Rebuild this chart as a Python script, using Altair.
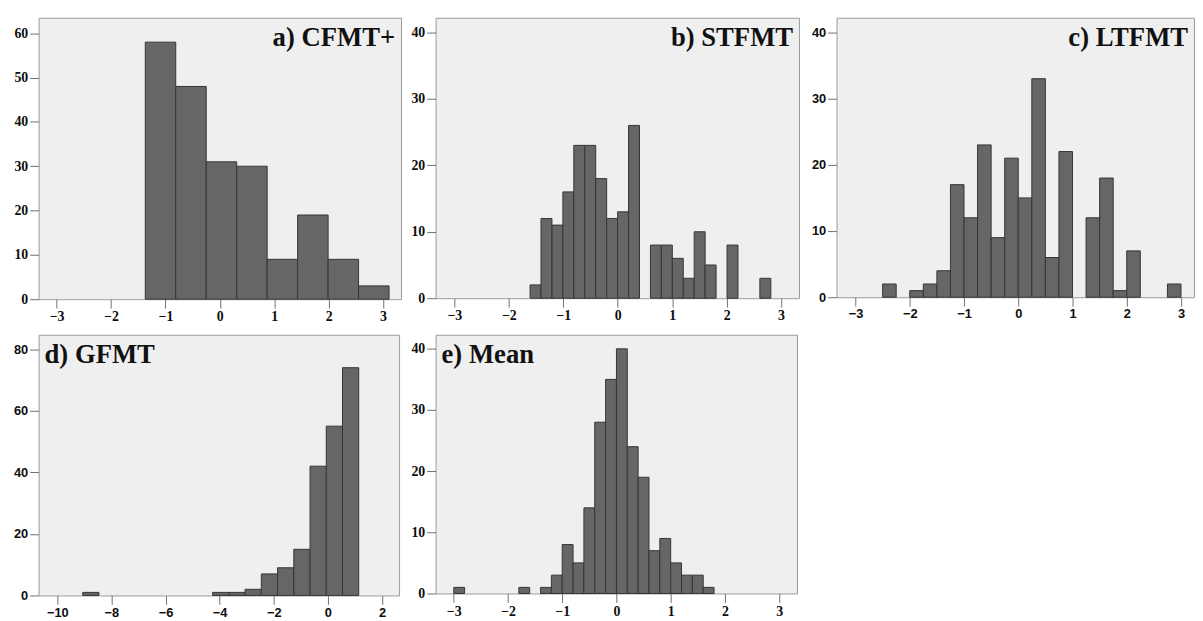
import altair as alt
import pandas as pd

# ---- data (bin start, bin width, counts) ----
a_title = "a) CFMT+"
a_start, a_width = -1.37, 0.56
a_counts = [58, 48, 31, 30, 9, 19, 9, 3]

b_title = "b) STFMT"
b_start, b_width = -1.61, 0.201
b_counts = [2, 12, 11, 16, 23, 23, 18, 12, 13, 26, 0, 8, 8, 6, 3, 10, 5, 0, 8, 0, 0, 3]

c_title = "c) LTFMT"
c_start, c_width = -2.5, 0.25
c_counts = [2, 0, 1, 2, 4, 17, 12, 23, 9, 21, 15, 33, 6, 22, 0, 12, 18, 1, 7, 0, 0, 2]

d_title = "d) GFMT"
d_start, d_width = -9.06, 0.6
d_counts = [1, 0, 0, 0, 0, 0, 0, 0, 1, 1, 2, 7, 9, 15, 42, 55, 74]

e_title = "e) Mean"
e_start, e_width = -3.0, 0.2
e_counts = [1, 0, 0, 0, 0, 0, 1, 0, 1, 3, 8, 5, 14, 28, 35, 40, 24, 19, 7, 9, 5, 3, 3, 1]

z_ticks = [-3, -2, -1, 0, 1, 2, 3]
d_xticks = [-10, -8, -6, -4, -2, 0, 2]
y_ticks_60 = [0, 10, 20, 30, 40, 50, 60]
y_ticks_40 = [0, 10, 20, 30, 40]
y_ticks_80 = [0, 20, 40, 60, 80]

SERIF = "Liberation Serif"
SANS = "Liberation Sans"


def bins(start, width, counts):
    rows = []
    for i, c in enumerate(counts):
        if c > 0:
            lo = start + i * width
            rows.append({"lo": lo, "hi": lo + width, "n": c})
    return pd.DataFrame(rows)


def panel(df, title, xdom, xticks, ydom, yticks, w, h, font, fsize, yext, right_title):
    common = dict(labelFont=font, labelFontSize=fsize, labelFontWeight="bold",
                  tickSize=9, tickWidth=1, labelPadding=2, domain=False, grid=False,
                  tickColor="#6f6f6f", labelColor="#0d0d0d")
    xaxis = alt.Axis(values=xticks, minExtent=24, maxExtent=24, labelFlush=False, **common)
    yaxis = alt.Axis(values=yticks, minExtent=yext, maxExtent=yext, **common)
    bars = alt.Chart(df).mark_rect(fill="#666666", stroke="#353535", strokeWidth=1).encode(
        x=alt.X("lo:Q", scale=alt.Scale(domain=xdom, nice=False, zero=False), axis=xaxis,
                title=None),
        x2="hi:Q",
        y=alt.Y("n:Q", scale=alt.Scale(domain=ydom, nice=False), axis=yaxis, title=None),
        y2=alt.datum(0),
    )
    txt = alt.Chart(pd.DataFrame({"label": [title]})).mark_text(
        align="right" if right_title else "left", baseline="alphabetic",
        font=SERIF, fontWeight="bold", fontSize=27, color="#111111",
    ).encode(
        x=alt.value(w - 6 if right_title else 6),
        y=alt.value(29),
        text="label:N",
    )
    return alt.layer(bars, txt).properties(width=w, height=h)


pa = panel(bins(a_start, a_width, a_counts), a_title, [-3.33, 3.33], z_ticks,
           [0, 63.5], y_ticks_60, 367, 285, SERIF, 14, 28, True)
pb = panel(bins(b_start, b_width, b_counts), b_title, [-3.345, 3.33], z_ticks,
           [0, 42.2], y_ticks_40, 368, 284, SERIF, 14, 28, True)
pc = panel(bins(c_start, c_width, c_counts), c_title, [-3.35, 3.24], z_ticks,
           [0, 42.2], y_ticks_40, 362, 283, SANS, 13, 31, True)
pd_ = panel(bins(d_start, d_width, d_counts), d_title, [-10.69, 2.63], d_xticks,
            [0, 84.7], y_ticks_80, 365, 264, SANS, 13, 30, False)
pe = panel(bins(e_start, e_width, e_counts), e_title, [-3.335, 3.33], z_ticks,
           [0, 42.3], y_ticks_40, 366, 262, SERIF, 14, 30, False)

row1 = alt.hconcat(pa, pb, pc, spacing=5)
row2 = alt.hconcat(pd_, pe, spacing=5)

chart = alt.vconcat(row1, row2, spacing=9).properties(
    padding={"left": 0, "top": 5, "right": 0, "bottom": 0},
    background="white",
).configure_view(
    fill="#EFEFEF", stroke="#9a9a9a", strokeWidth=1,
)

chart.save("out.html", embed_options={"renderer": "svg", "actions": False})
